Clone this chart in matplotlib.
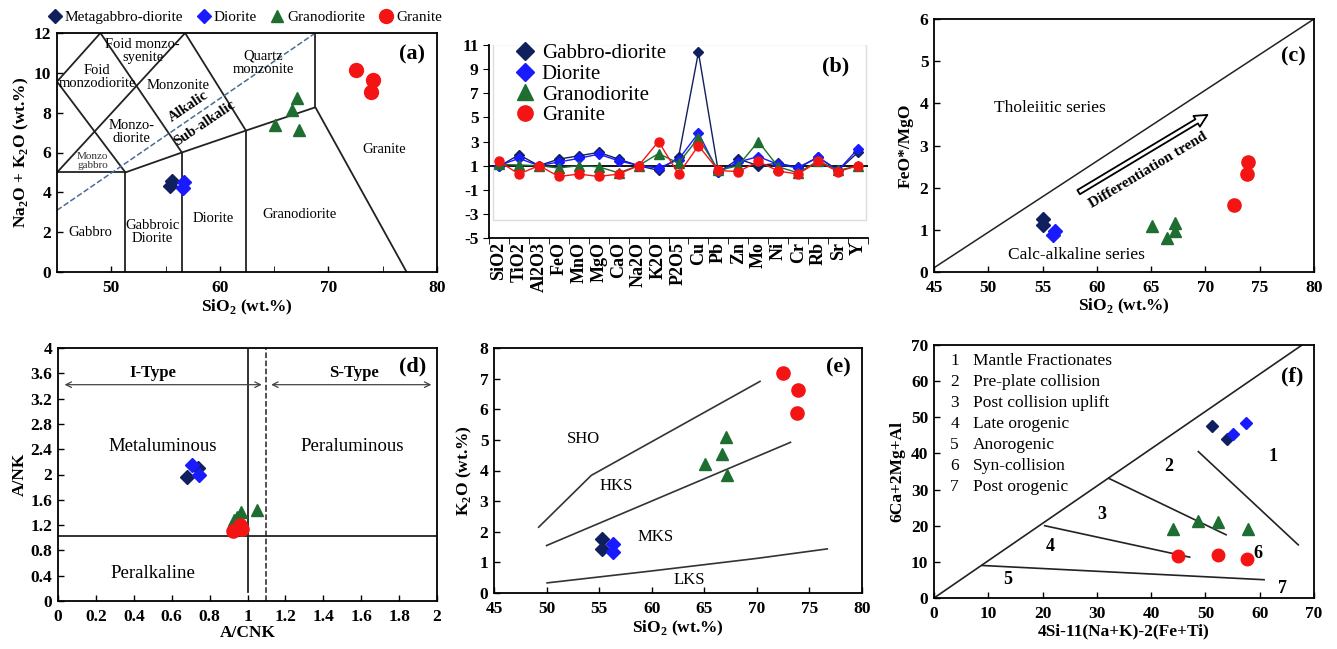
import numpy as np
import matplotlib
matplotlib.use('Agg')
import matplotlib.pyplot as plt
from matplotlib.patches import Rectangle

plt.rcParams['font.family'] = ['Liberation Serif', 'DejaVu Serif']
plt.rcParams['mathtext.fontset'] = 'custom'
plt.rcParams['mathtext.rm'] = 'Liberation Serif'
plt.rcParams['mathtext.bf'] = 'Liberation Serif:bold'
plt.rcParams['axes.unicode_minus'] = False

NAVY, BLUE, GREEN, RED = '#10205e', '#1a1aff', '#1d6e30', '#f41414'

# ---- (a) TAS diagram ----
tas_gab_x, tas_gab_y = [55.6, 55.4], [4.55, 4.3]
tas_dio_x, tas_dio_y = [56.7, 56.6], [4.53, 4.2]
tas_grd_x, tas_grd_y = [67.1, 66.6, 65.1, 67.3], [8.76, 8.14, 7.38, 7.13]
tas_gra_x, tas_gra_y = [72.5, 74.1, 73.9], [10.15, 9.65, 9.06]
tas_lines = [
    [(45, 5), (51.3, 5)],
    [(51.3, 0), (51.3, 5)],
    [(51.3, 5), (56.5, 6), (62.4, 7.1), (68.8, 8.27), (77.2, 0)],
    [(56.5, 0), (56.5, 6)],
    [(62.4, 0), (62.4, 7.1)],
    [(68.8, 8.27), (68.8, 12)],
    [(45, 5), (56.8, 12)],
    [(45, 9.56), (49, 12)],
    [(45, 9.56), (51.3, 5)],
    [(49, 12), (56.5, 6)],
    [(56.8, 12), (62.4, 7.1)],
]
tas_dash = [(45, 3.1), (68.8, 12)]
tas_names = [('Foid monzo-\nsyenite', 52.9, 11.1), ('Foid\nmonzodiorite', 48.7, 9.8),
             ('Monzonite', 56.2, 9.35), ('Quartz\nmonzonite', 64.0, 10.5),
             ('Monzo-\ndiorite', 51.9, 7.05), ('Gabbro', 48.1, 2.0),
             ('Gabbroic\nDiorite', 53.75, 2.0), ('Diorite', 59.4, 2.7),
             ('Granodiorite', 67.3, 2.9), ('Granite', 75.1, 6.16)]

# ---- (b) normalised spider ----
elements = ['SiO2', 'TiO2', 'Al2O3', 'FeO', 'MnO', 'MgO', 'CaO', 'Na2O', 'K2O',
            'P2O5', 'Cu', 'Pb', 'Zn', 'Mo', 'Ni', 'Cr', 'Rb', 'Sr', 'Y']
sp_gab = [0.93, 1.9, 1.0, 1.54, 1.81, 2.1, 1.54, 1.0, 0.6, 1.68, 10.4, 0.46, 1.54,
          1.0, 1.2, 0.85, 1.7, 0.6, 2.1]
sp_dio = [1.0, 1.6, 1.0, 1.3, 1.6, 1.95, 1.4, 1.0, 0.8, 1.5, 3.7, 0.45, 1.3,
          1.75, 1.1, 0.8, 1.7, 0.6, 2.4]
sp_grd = [1.1, 1.05, 1.0, 0.8, 1.0, 0.9, 0.4, 1.0, 2.0, 1.2, 3.3, 0.6, 1.0,
          3.0, 0.9, 0.4, 1.4, 0.6, 1.0]
sp_gra = [1.35, 0.3, 1.0, 0.1, 0.3, 0.1, 0.3, 1.0, 3.0, 0.3, 2.65, 0.6, 0.5,
          1.35, 0.55, 0.3, 1.35, 0.5, 1.0]

# ---- (c) FeO*/MgO vs SiO2 ----
fm_gab_x, fm_gab_y = [55.05, 55.0], [1.25, 1.11]
fm_dio_x, fm_dio_y = [56.1, 56.0], [0.98, 0.88]
fm_grd_x, fm_grd_y = [65.1, 67.2, 67.2, 66.5], [1.09, 1.16, 0.97, 0.81]
fm_gra_x, fm_gra_y = [73.95, 73.8, 72.6], [2.61, 2.32, 1.58]

# ---- (d) A/NK vs A/CNK ----
ac_gab_x, ac_gab_y = [0.68, 0.74], [1.96, 2.1]
ac_dio_x, ac_dio_y = [0.705, 0.745], [2.15, 2.0]
ac_grd_x, ac_grd_y = [0.964, 1.05, 0.93, 0.946], [1.40, 1.44, 1.28, 1.33]
ac_gra_x, ac_gra_y = [0.925, 0.96, 0.97], [1.11, 1.2, 1.14]

# ---- (e) K2O vs SiO2 ----
k_gab_x, k_gab_y = [55.3, 55.3], [1.77, 1.44]
k_dio_x, k_dio_y = [56.34, 56.34], [1.61, 1.34]
k_grd_x, k_grd_y = [67.1, 66.65, 65.1, 67.2], [5.08, 4.55, 4.22, 3.84]
k_gra_x, k_gra_y = [72.5, 73.96, 73.8], [7.18, 6.64, 5.88]
k_sho = [(49.25, 2.15), (54.25, 3.84), (70.3, 6.91)]
k_hks = [(50.0, 1.55), (73.2, 4.92)]
k_lks = [(50.05, 0.33), (60, 0.72), (70, 1.13), (76.7, 1.44)]

# ---- (f) R1-R2 style ----
r_gab_x, r_gab_y = [51.2, 53.9], [47.7, 44.0]
r_dio_x, r_dio_y = [57.5, 55.0], [48.4, 45.5]
r_grd_x, r_grd_y = [43.95, 48.7, 52.4, 57.8], [19.06, 21.2, 20.9, 19.15]
r_gra_x, r_gra_y = [45.0, 52.4, 57.6], [11.5, 12.0, 10.8]
r_lines = [[(0, 0), (67.8, 70)],
           [(32.2, 33.1), (53.8, 17.5)],
           [(20.4, 20.0), (47.1, 11.3)],
           [(8.85, 9.0), (60.8, 5.06)],
           [(48.7, 40.5), (67.1, 14.7)]]
r_nums = [('1', 62.5, 39.1), ('2', 43.3, 36.4), ('3', 30.9, 23.0), ('4', 21.5, 14.3),
          ('5', 13.5, 5.1), ('6', 59.7, 12.4), ('7', 64.2, 2.5)]
r_legend = ['Mantle Fractionates', 'Pre-plate collision', 'Post collision uplift',
            'Late orogenic', 'Anorogenic', 'Syn-collision', 'Post orogenic']

W, H = 1337, 649
TICK = 12.5
LAB = 12.5
fig = plt.figure(figsize=(W / 100, H / 100), dpi=100)


def box(x0, y0, x1, y1):
    return fig.add_axes([x0 / W, 1 - y1 / H, (x1 - x0) / W, (y1 - y0) / H])


def style(ax):
    ax.tick_params(direction='in', labelsize=TICK, length=4, width=1)
    ax.tick_params(axis='x', pad=6)
    ax.tick_params(axis='y', pad=4)
    for lab in ax.get_xticklabels() + ax.get_yticklabels():
        lab.set_fontweight('bold')
    for s in ax.spines.values():
        s.set_linewidth(1.3)


def scatter4(ax, data, sizes=(7, 7, 9, 10)):
    (gx, gy), (dx, dy), (tx, ty), (rx, ry) = data
    ax.plot(gx, gy, 'D', color=NAVY, ms=sizes[0], ls='none')
    ax.plot(dx, dy, 'D', color=BLUE, ms=sizes[1], ls='none')
    ax.plot(tx, ty, '^', color=GREEN, ms=sizes[2], ls='none')
    ax.plot(rx, ry, 'o', color=RED, ms=sizes[3], ls='none')


def polyline(ax, pts, **kw):
    xs, ys = zip(*pts)
    ax.plot(xs, ys, **kw)


# (a)
ax = box(57, 33, 437, 272)
for seg in tas_lines:
    polyline(ax, seg, color='#222222', lw=1.3)
polyline(ax, tas_dash, color='#4a6c95', lw=1.1, ls='--')
for txt, x, y in tas_names:
    ax.text(x, y, txt, ha='center', va='center', fontsize=10.5, linespacing=1.0)
ax.text(48.3, 5.55, 'Monzo\ngabbro', ha='center', va='center', fontsize=8,
        linespacing=1.0, color='#333333')
ax.text(57.1, 8.3, 'Alkalic', rotation=34, ha='center', va='center',
        fontsize=10.5, fontweight='bold')
ax.text(58.6, 7.45, 'Sub-alkalic', rotation=34, ha='center', va='center',
        fontsize=10.5, fontweight='bold')
scatter4(ax, [(tas_gab_x, tas_gab_y), (tas_dio_x, tas_dio_y),
              (tas_grd_x, tas_grd_y), (tas_gra_x, tas_gra_y)])
ax.set_xlim(45, 80)
ax.set_ylim(0, 12)
ax.set_xticks([50, 60, 70, 80])
ax.set_xticks([55, 65, 75], minor=True)
ax.set_yticks(range(0, 13, 2))
ax.tick_params(which='minor', direction='in', length=4)
ax.set_xlabel('SiO$_\\mathbf{2}$ (wt.%)', fontsize=LAB, fontweight='bold', labelpad=1)
ax.set_ylabel('Na$_\\mathbf{2}$O + K$_\\mathbf{2}$O (wt.%)', fontsize=LAB,
              fontweight='bold', labelpad=2)
ax.text(77.7, 10.9, '(a)', ha='center', va='center', fontsize=16, fontweight='bold')
style(ax)
hs = [ax.plot([], [], 'D', color=NAVY, ms=7)[0], ax.plot([], [], 'D', color=BLUE, ms=7)[0],
      ax.plot([], [], '^', color=GREEN, ms=9)[0], ax.plot([], [], 'o', color=RED, ms=10)[0]]
ax.legend(hs, ['Metagabbro-diorite', 'Diorite', 'Granodiorite', 'Granite'],
          loc='center', bbox_to_anchor=(0.49, 1.065), ncol=4, frameon=False,
          fontsize=11, handletextpad=0.0, columnspacing=0.7, borderaxespad=0,
          handlelength=1.3)

# (b)
ax = box(489, 45, 868, 238)
xs = np.arange(len(elements))
for vals, col, mk, ms in ((sp_gab, NAVY, 'D', 5.5), (sp_dio, BLUE, 'D', 5.5),
                          (sp_grd, GREEN, '^', 7), (sp_gra, RED, 'o', 6.5)):
    ax.plot(xs, vals, color=col, lw=1.0, marker=mk, ms=ms, zorder=3)
lab_names = ['Gabbro-diorite', 'Diorite', 'Granodiorite', 'Granite']
ax.axhline(1, color='black', lw=1.3, zorder=2)
ax.add_patch(Rectangle((-0.28, -3.5), 18.68, 14.6, fill=False, ec='#dddddd',
                       lw=1.0, zorder=1))
ax.set_xlim(-0.45, 18.33)
ax.set_ylim(-5, 11)
ax.set_yticks(range(-5, 12, 2))
ax.set_xticks(xs)
ax.set_xticklabels(elements, rotation=90, fontsize=13, fontweight='bold')
ax.set_xticks(np.arange(-0.5, 18.6, 1), minor=True)
ax.tick_params(axis='x', which='major', length=0, pad=3)
ax.tick_params(axis='x', which='minor', length=4, direction='out')
ax.tick_params(axis='y', direction='out', length=4, labelsize=TICK)
for lab in ax.get_yticklabels():
    lab.set_fontweight('bold')
for s in ('top', 'right'):
    ax.spines[s].set_visible(False)
for s in ('left', 'bottom'):
    ax.spines[s].set_linewidth(1.3)
lh = [ax.plot([], [], 'D', color=NAVY, ms=9)[0], ax.plot([], [], 'D', color=BLUE, ms=9)[0],
      ax.plot([], [], '^', color=GREEN, ms=11)[0], ax.plot([], [], 'o', color=RED, ms=11)[0]]
ax.legend(lh, lab_names, loc='upper left', bbox_to_anchor=(0.04, 1.05), frameon=False,
          fontsize=15, handletextpad=0.2, labelspacing=0.05, borderaxespad=0,
          handlelength=1.2)
ax.text(16.9, 9.2, '(b)', ha='center', va='center', fontsize=16, fontweight='bold')

# (c)
ax = box(934, 19, 1314, 272)
ax.plot([45, 80], [0.1, 6.0], color='#222222', lw=1.1)
ax.annotate('', xy=(70.4, 3.76), xytext=(58.1, 1.86),
            arrowprops=dict(arrowstyle='simple,head_width=0.9,head_length=0.9,tail_width=0.35',
                            fc='white', ec='black', lw=1.3))
ax.text(64.7, 2.42, 'Differentiation trend', rotation=31, ha='center', va='center',
        fontsize=11, fontweight='bold')
ax.text(55.7, 3.88, 'Tholeiitic series', ha='center', va='center', fontsize=12.5)
ax.text(58.1, 0.4, 'Calc-alkaline series', ha='center', va='center', fontsize=12.5)
scatter4(ax, [(fm_gab_x, fm_gab_y), (fm_dio_x, fm_dio_y),
              (fm_grd_x, fm_grd_y), (fm_gra_x, fm_gra_y)], sizes=(7, 7, 8.5, 9.5))
ax.set_xlim(45, 80)
ax.set_ylim(0, 6)
ax.set_xticks(range(45, 81, 5))
ax.set_yticks(range(0, 7))
ax.set_xlabel('SiO$_\\mathbf{2}$ (wt.%)', fontsize=LAB, fontweight='bold', labelpad=0)
ax.set_ylabel('FeO*/MgO', fontsize=LAB, fontweight='bold', labelpad=4)
ax.text(78.1, 5.1, '(c)', ha='center', va='center', fontsize=16, fontweight='bold')
style(ax)

# (d)
ax = box(58, 348, 437, 601)
ax.plot([1, 1], [0.15, 4], color='#222222', lw=1.3)
ax.plot([1.1, 1.1], [0, 4], color='#222222', lw=1.1, ls='--')
ax.axhline(1.02, color='#222222', lw=1.3)
for x0, x1 in ((0.02, 1.09), (1.11, 1.985)):
    ax.annotate('', xy=(x1, 3.42), xytext=(x0, 3.42),
                arrowprops=dict(arrowstyle='<->', color='#444444', lw=0.9))
ax.text(0.5, 3.6, 'I-Type', ha='center', va='center', fontsize=12, fontweight='bold')
ax.text(1.56, 3.6, 'S-Type', ha='center', va='center', fontsize=12, fontweight='bold')
ax.text(0.55, 2.45, 'Metaluminous', ha='center', va='center', fontsize=13.5)
ax.text(1.55, 2.44, 'Peraluminous', ha='center', va='center', fontsize=13.5)
ax.text(0.5, 0.44, 'Peralkaline', ha='center', va='center', fontsize=13.5)
ax.text(1.87, 3.71, '(d)', ha='center', va='center', fontsize=16, fontweight='bold')
scatter4(ax, [(ac_gab_x, ac_gab_y), (ac_dio_x, ac_dio_y),
              (ac_grd_x, ac_grd_y), (ac_gra_x, ac_gra_y)], sizes=(7, 7, 8.5, 9.5))
ax.set_xlim(0, 2)
ax.set_ylim(0, 4)
ax.set_xticks(np.round(np.arange(0, 2.01, 0.2), 1))
ax.set_xticklabels(['0', '0.2', '0.4', '0.6', '0.8', '1', '1.2', '1.4', '1.6', '1.8', '2'])
ax.set_yticks(np.round(np.arange(0, 4.01, 0.4), 1))
ax.set_yticklabels(['0', '0.4', '0.8', '1.2', '1.6', '2', '2.4', '2.8', '3.2', '3.6', '4'])
ax.set_xlabel('A/CNK', fontsize=LAB, fontweight='bold', labelpad=0)
ax.set_ylabel('A/NK', fontsize=LAB, fontweight='bold', labelpad=2)
style(ax)

# (e)
ax = box(494, 348, 862, 593)
for seg in (k_sho, k_hks, k_lks):
    polyline(ax, seg, color='#333333', lw=1.2)
ax.text(53.5, 5.04, 'SHO', ha='center', va='center', fontsize=12)
ax.text(56.65, 3.48, 'HKS', ha='center', va='center', fontsize=12)
ax.text(60.4, 1.83, 'MKS', ha='center', va='center', fontsize=12)
ax.text(63.6, 0.44, 'LKS', ha='center', va='center', fontsize=12)
ax.text(77.8, 7.35, '(e)', ha='center', va='center', fontsize=16, fontweight='bold')
scatter4(ax, [(k_gab_x, k_gab_y), (k_dio_x, k_dio_y),
              (k_grd_x, k_grd_y), (k_gra_x, k_gra_y)], sizes=(7, 7, 8.5, 9.5))
ax.set_xlim(45, 80)
ax.set_ylim(0, 8)
ax.set_xticks(range(45, 81, 5))
ax.set_yticks(range(0, 9))
ax.set_xlabel('SiO$_\\mathbf{2}$ (wt.%)', fontsize=LAB, fontweight='bold', labelpad=1)
ax.set_ylabel('K$_\\mathbf{2}$O (wt.%)', fontsize=LAB, fontweight='bold', labelpad=4)
style(ax)

# (f)
ax = box(934, 345, 1314, 598)
for seg in r_lines:
    polyline(ax, seg, color='#222222', lw=1.2)
for txt, x, y in r_nums:
    ax.text(x, y, txt, ha='center', va='center', fontsize=13, fontweight='bold')
ys = [65.6, 59.8, 54.0, 48.1, 42.3, 36.5, 30.7]
for i, (txt, y) in enumerate(zip(r_legend, ys)):
    ax.text(3.8, y, str(i + 1), ha='center', va='center', fontsize=12.5)
    ax.text(7.2, y, txt, ha='left', va='center', fontsize=12.5)
scatter4(ax, [(r_gab_x, r_gab_y), (r_dio_x, r_dio_y),
              (r_grd_x, r_grd_y), (r_gra_x, r_gra_y)], sizes=(6, 6, 8, 9))
ax.text(65.9, 61.2, '(f)', ha='center', va='center', fontsize=16, fontweight='bold')
ax.set_xlim(0, 70)
ax.set_ylim(0, 70)
ax.set_xticks(range(0, 71, 10))
ax.set_yticks(range(0, 71, 10))
ax.set_xlabel('4Si-11(Na+K)-2(Fe+Ti)', fontsize=LAB, fontweight='bold', labelpad=1)
ax.set_ylabel('6Ca+2Mg+Al', fontsize=LAB, fontweight='bold', labelpad=4)
style(ax)

fig.savefig('out.png', dpi=100)
